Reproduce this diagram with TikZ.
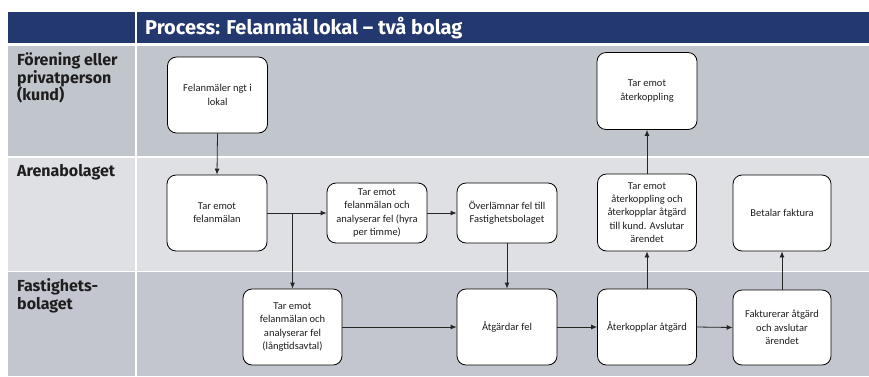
\documentclass[tikz,border=0pt]{standalone}
\usepackage{fontspec}
\setmainfont{Carlito}
\newfontfamily\labelfont{Fira Sans}
\usetikzlibrary{arrows.meta}

\definecolor{headblue}{HTML}{22386F}
\definecolor{laneA}{HTML}{C1C5CC}
\definecolor{laneB}{HTML}{DFE0E4}
\definecolor{laneC}{HTML}{C3C6CE}
\definecolor{inktext}{HTML}{1E1E1E}

\begin{document}
\begin{tikzpicture}[x=1pt,y=-1pt,
  stepbox/.style={draw=black, fill=white, rounded corners=9pt, line width=0.8pt,
    minimum width=100pt, minimum height=76pt, align=center, inner sep=0pt,
    text=inktext, font=\fontsize{10.5}{13.3}\selectfont},
  flow/.style={draw=black!85, line width=0.8pt, -{Latex[length=6pt,width=5pt]}},
  lanelabel/.style={anchor=north west, align=left, inner sep=0pt, text=inktext,
    font=\labelfont\bfseries\fontsize{16}{17.5}\selectfont},
]
% canvas and swimlane backgrounds
\useasboundingbox (0,0) rectangle (869,376);
\fill[white] (0,0) rectangle (869,376);
\fill[headblue] (8,12) rectangle (869,43);
\fill[laneA] (8,46) rectangle (869,157);
\fill[laneB] (8,157) rectangle (869,271.5);
\fill[laneC] (8,271.5) rectangle (869,376);
\draw[white, line width=1.2pt] (8,157) -- (869,157);
\draw[white, line width=1.2pt] (8,271.5) -- (869,271.5);
\draw[white, line width=1.2pt] (136,12) -- (136,376);

% title and lane labels
\node[anchor=west, text=white, inner sep=0pt,
  font=\labelfont\bfseries\fontsize{20}{22}\selectfont] (title) at (145,28)
  {Process: Felanmäl lokal – två bolag};
\node[lanelabel] (lkund) at (17,52.5) {Förening eller\\privatperson\\(kund)};
\node[lanelabel] (larena) at (17,164.5) {Arenabolaget};
\node[lanelabel] (lfast) at (17,278.5) {Fastighets-\\bolaget};

% process steps
\node[stepbox] (report) at (217.5,95) {Felanmäler ngt i\\lokal};
\node[stepbox, minimum height=77pt] (fbcust) at (647,91) {Tar emot\\återkoppling};
\node[stepbox] (recv) at (217,213) {Tar emot\\felanmälan};
\node[stepbox, minimum height=60pt] (hourly) at (377,213)
  {Tar emot\\felanmälan och\\analyserar fel (hyra\\per timme)};
\node[stepbox, minimum height=60pt] (handover) at (507,213)
  {Överlämnar fel till\\Fastighetsbolaget};
\node[stepbox, minimum width=99pt, minimum height=77pt] (fbarena) at (647,212.5)
  {Tar emot\\återkoppling och\\återkopplar åtgärd\\till kund. Avslutar\\ärendet};
\node[stepbox, minimum width=98pt] (pay) at (782,213) {Betalar faktura};
\node[stepbox, minimum width=99pt] (longterm) at (292.5,327)
  {Tar emot\\felanmälan och\\analyserar fel\\(långtidsavtal)};
\node[stepbox] (fix) at (507,327) {Åtgärdar fel};
\node[stepbox, minimum width=99pt] (feedback) at (647,327) {Återkopplar åtgärd};
\node[stepbox, minimum width=98pt, minimum height=75pt] (invoice) at (782,327.5)
  {Fakturerar åtgärd\\och avslutar\\ärendet};

% connectors
\coordinate (split) at (longterm.north |- recv.east);
\draw[flow] (report.south) -- (recv.north);
\draw[flow] (recv.east) -- (hourly.west);
\draw[flow] (split) -- (longterm.north);
\draw[flow] (hourly.east) -- (handover.west);
\draw[flow] (handover.south) -- (fix.north);
\draw[flow] (longterm.east) -- (fix.west);
\draw[flow] (fix.east) -- (feedback.west);
\draw[flow] (feedback.north) -- (fbarena.south);
\draw[flow] (fbarena.north) -- (fbcust.south);
\draw[flow] (feedback.east) -- (invoice.west);
\draw[flow] (invoice.north) -- (pay.south);
\end{tikzpicture}
\end{document}
